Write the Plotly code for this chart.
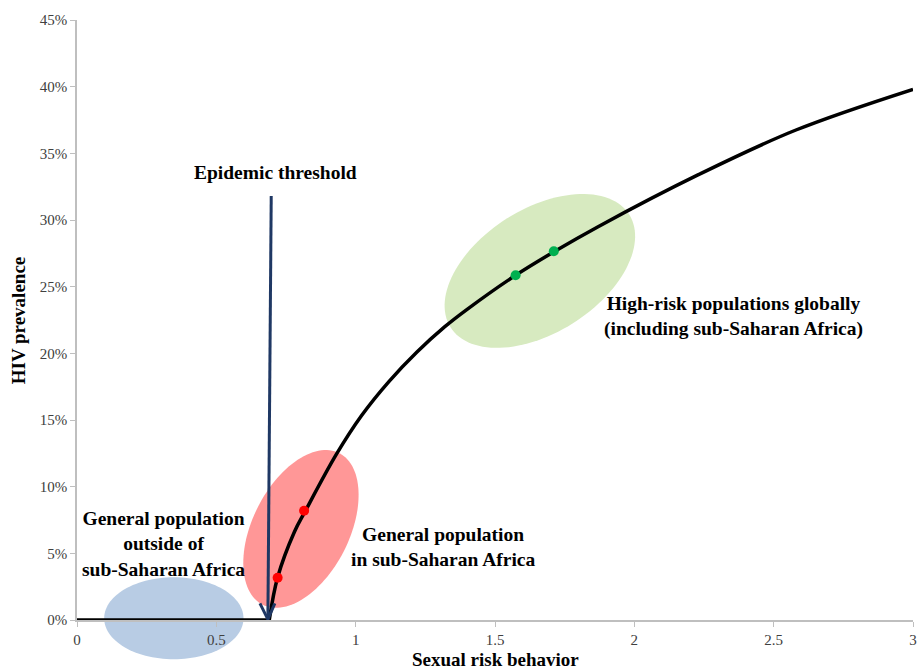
import numpy as np
import plotly.graph_objects as go

# ---------------- data ----------------
threshold = 0.69
flat_x = [0.0, 0.69]
flat_y = [0.0, 0.0]
curve_x = [0.69, 0.72, 0.78, 0.82, 0.93, 1.02, 1.12, 1.22, 1.32, 1.40, 1.57, 1.71, 1.87, 2.23, 2.58, 3.0]
curve_y = [0.0, 3.2, 6.6, 8.2, 12.4, 15.3, 17.9, 20.1, 22.0, 23.3, 25.8, 27.6, 29.5, 33.4, 36.75, 39.8]
red_x = [0.72, 0.815]
red_y = [3.17, 8.2]
green_x = [1.574, 1.711]
green_y = [25.85, 27.65]
x_ticks = [0, 0.5, 1, 1.5, 2, 2.5, 3]
x_ticklabels = ["0", "0.5", "1", "1.5", "2", "2.5", "3"]
y_ticks = [0, 5, 10, 15, 20, 25, 30, 35, 40, 45]
y_ticklabels = ["0%", "5%", "10%", "15%", "20%", "25%", "30%", "35%", "40%", "45%"]

# ---------------- layout geometry ----------------
W, H = 921, 671
ML, MR, MT, MB = 77, 4, 20, 51
XR = [0, 3]
YR = [0, 45]
PXX = (W - ML - MR) / (XR[1] - XR[0])   # px per x unit
PXY = (H - MT - MB) / (YR[1] - YR[0])   # px per y unit

SERIF = "Liberation Serif, Times New Roman, serif"


def ellipse_path(cx, cy, a, b, ang_deg, n=120):
    """Ellipse given in data units (centre) and pixels (semi-axes); returned in paper coords
    so that it is not clipped by the plot area."""
    t = np.linspace(0, 2 * np.pi, n, endpoint=False)
    th = np.deg2rad(ang_deg)
    dx = a * np.cos(t) * np.cos(th) - b * np.sin(t) * np.sin(th)
    dy = a * np.cos(t) * np.sin(th) + b * np.sin(t) * np.cos(th)
    xs = (cx + dx / PXX - XR[0]) / (XR[1] - XR[0])
    ys = (cy + dy / PXY - YR[0]) / (YR[1] - YR[0])
    pts = [f"{x:.5f},{y:.5f}" for x, y in zip(xs, ys)]
    return "M " + " L ".join(pts) + " Z"


ellipses = [
    dict(cx=0.3475, cy=0.13, a=70, b=41, ang=0, color="#B8CCE4"),
    dict(cx=0.8036, cy=6.83, a=85, b=48.5, ang=63, color="#FF9797"),
    dict(cx=1.661, cy=26.18, a=106, b=62, ang=32, color="#D7EAC0"),
]

fig = go.Figure()

shapes = []
for e in ellipses:
    shapes.append(dict(type="path", path=ellipse_path(e["cx"], e["cy"], e["a"], e["b"], e["ang"]),
                       xref="paper", yref="paper", fillcolor=e["color"], line=dict(width=0),
                       layer="below"))

# epidemic threshold arrow
tip_x, tip_y = threshold - 0.005, 0.05
tail_x, tail_y = threshold + 0.007, 31.8
navy = "#1F3864"
shapes.append(dict(type="line", x0=tail_x, y0=tail_y, x1=tip_x, y1=tip_y, xref="x", yref="y",
                   line=dict(color=navy, width=3), layer="above"))
vpath = (f"M {tip_x - 8 / PXX:.5f},{tip_y + 16 / PXY:.5f} L {tip_x:.5f},{tip_y:.5f} "
         f"L {tip_x + 7 / PXX:.5f},{tip_y + 16 / PXY:.5f}")
shapes.append(dict(type="path", path=vpath, xref="x", yref="y",
                   line=dict(color=navy, width=3), layer="above"))

fig.add_trace(go.Scatter(x=flat_x, y=flat_y, mode="lines", line=dict(color="black", width=3.5),
                         hoverinfo="skip", showlegend=False, cliponaxis=False))
fig.add_trace(go.Scatter(x=curve_x, y=curve_y, mode="lines",
                         line=dict(color="black", width=3.5, shape="spline", smoothing=1.0),
                         hoverinfo="skip", showlegend=False, cliponaxis=False))
fig.add_trace(go.Scatter(x=red_x, y=red_y, mode="markers", marker=dict(color="#FF0000", size=10),
                         showlegend=False, cliponaxis=False))
fig.add_trace(go.Scatter(x=green_x, y=green_y, mode="markers", marker=dict(color="#00B050", size=10),
                         showlegend=False, cliponaxis=False))

txt_font = dict(family=SERIF, size=19.5, color="black")
annotations = [
    dict(x=0.711, y=33.6, text="<b>Epidemic threshold</b>"),
    dict(x=0.310, y=5.7, text="<b>General population<br>outside of<br>sub-Saharan Africa</b>"),
    dict(x=1.312, y=5.44, text="<b>General population<br>in sub-Saharan Africa</b>"),
    dict(x=2.357, y=22.8, text="<b>High-risk populations globally<br>(including sub-Saharan Africa)</b>"),
]
anns = []
for a in annotations:
    anns.append(dict(x=a["x"], y=a["y"], xref="x", yref="y", text=a["text"], showarrow=False,
                     font=txt_font, align="center", xanchor="center", yanchor="middle"))

title_font = dict(family=SERIF, size=19, color="black")
anns.append(dict(x=(18 - ML) / (W - ML - MR), y=0.5, xref="paper", yref="paper",
                 text="<b>HIV prevalence</b>", textangle=-90, showarrow=False,
                 font=title_font, xanchor="center", yanchor="middle"))
anns.append(dict(x=0.5, y=-(659 - (H - MB)) / (H - MT - MB), xref="paper", yref="paper",
                 text="<b>Sexual risk behavior</b>", showarrow=False,
                 font=title_font, xanchor="center", yanchor="middle"))

axis_gray = "#BFBFBF"
tick_font = dict(family=SERIF, size=15, color="#404040")
fig.update_layout(
    width=W, height=H,
    margin=dict(l=ML, r=MR, t=MT, b=MB, pad=0),
    paper_bgcolor="white", plot_bgcolor="rgba(0,0,0,0)",
    shapes=shapes, annotations=anns,
    xaxis=dict(range=XR, tickvals=x_ticks, ticktext=x_ticklabels, showgrid=False, zeroline=False,
               showline=True, linecolor=axis_gray, linewidth=1.5, ticks="outside", ticklen=5,
               tickcolor=axis_gray, tickfont=tick_font),
    yaxis=dict(range=YR, tickvals=y_ticks, ticktext=y_ticklabels, showgrid=False, zeroline=False,
               showline=True, linecolor=axis_gray, linewidth=1.5, ticks="outside", ticklen=5,
               tickcolor=axis_gray, tickfont=tick_font),
)

fig.write_html("out.html", config={"displayModeBar": False},
               post_script="document.body.style.margin='0';document.body.style.overflow='hidden';")
